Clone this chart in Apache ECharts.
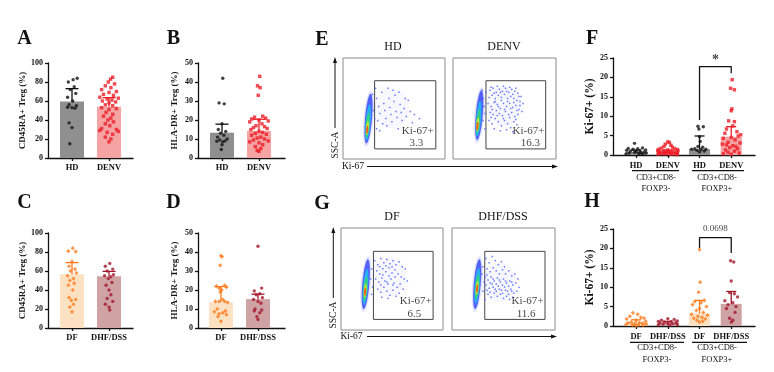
<!DOCTYPE html>
<html>
<head>
<meta charset="utf-8">
<script src="https://cdn.jsdelivr.net/npm/echarts@6/dist/echarts.min.js"></script>
<style>
html,body{margin:0;padding:0;background:#fff;}
#main{width:774px;height:372px;}
</style>
</head>
<body>
<div id="main"></div>
<script>
// ---- categories / ticks ----
var catsAB = ['HD', 'DENV'];
var catsCD = ['DF', 'DHF/DSS'];
var catsF = ['HD', 'DENV', 'HD', 'DENV'];
var catsH = ['DF', 'DHF/DSS', 'DF', 'DHF/DSS'];
var ticksPct = [0, 20, 40, 60, 80, 100];
var ticksHla = [0, 10, 20, 30, 40, 50];
var ticksKi = [0, 5, 10, 15, 20, 25];

// ---- bar heights and error limits (per category) ----
var aBar = [59.6, 54.0], aLo = [53, 29], aHi = [73, 63.5];
var bBar = [13.3, 14.2], bLo = [9, 9], bHi = [17.8, 20.4];
var cBar = [56.5, 54.4], cLo = [29, 31], cHi = [68.8, 59.6];
var dBar = [13.6, 15.2], dLo = [8.2, 9], dHi = [21.8, 17.8];
var fBar = [0.8, 0.9, 1.5, 4.7], fLo = [0.5, 0.6, 1.0, 2.0], fHi = [1.3, 1.3, 4.9, 7.3];
var hBar = [0.9, 0.8, 3.2, 5.7], hLo = [0.4, 0.4, 1.6, 3.3], hHi = [1.6, 1.2, 6.6, 8.9];

// ---- individual points [jitter, value] ----
var aHD = [[0.14,84],[0.03,82.5],[-0.1,80],[0.06,75],[-0.05,72],[0.1,68],[-0.12,64],[0.02,60],[-0.08,56],[0.12,55],[-0.12,53.5],[0,53],[0.08,52.5],[-0.08,37],[0,32],[-0.06,15]];
var aDENV = [[0.1,85],[0.04,83],[-0.02,80],[0.15,78],[-0.1,76],[0.05,74],[-0.2,72],[0.2,70],[0,69],[-0.15,67],[0.12,66],[-0.25,64],[0.25,63],[-0.05,62],[0.08,61],[-0.18,60],[0.18,59],[0,58],[-0.1,56],[0.1,55],[-0.2,53],[0.2,52],[0,51],[-0.08,48],[0.1,46],[-0.15,44],[0.05,42],[-0.03,40],[0.12,38],[-0.1,36],[0.02,34],[-0.2,31],[0.2,30],[-0.25,29],[0.25,28],[-0.05,27],[0.1,25],[-0.1,22],[0.05,20],[0,17]];
var bHD = [[0.02,42],[-0.08,29],[0.06,28.5],[0,18],[-0.1,15],[0.1,14],[-0.04,13],[0.05,12],[-0.12,11],[0.14,10],[-0.06,9.5],[0.08,9],[-0.14,8.8],[0.02,8.5],[0,7],[-0.02,4.5]];
var bDENV = [[0.02,43],[-0.04,38],[0.03,37],[-0.02,33],[0.1,22],[-0.12,21.5],[0.18,21],[-0.2,20.5],[0,20],[0.25,19.5],[-0.25,19],[0.08,18],[-0.08,17],[0.15,16.5],[-0.15,16],[0.22,15.5],[-0.22,15],[0,14],[0.1,13.5],[-0.1,13],[0.2,12.5],[-0.2,12],[0.05,11],[-0.05,10.5],[0.15,10],[-0.15,9.5],[0.25,9],[-0.25,8.5],[0,8],[0.1,7],[-0.1,6],[0.05,5],[-0.05,4],[0,3.5]];
var cDF = [[0.02,84],[-0.1,81],[0.1,80.5],[0,70],[-0.08,65],[0.08,62],[-0.04,60],[0.12,58],[-0.12,55],[0.04,52],[-0.06,50],[0.06,47],[-0.1,45],[0.02,40],[-0.08,32],[0.1,30],[-0.02,29],[0.04,25],[-0.06,22],[0,17]];
var cDHF = [[0.02,68],[-0.1,65],[0.1,62],[-0.05,60],[0.12,56],[-0.12,55],[0.05,54],[-0.02,52],[0.08,48],[-0.08,45],[0,40],[0.05,35],[-0.05,31],[0.1,28],[-0.1,25],[0,22],[0.02,19]];
var dDF = [[0,38],[0.03,37.5],[-0.02,33],[0.1,22.5],[-0.12,22],[0.15,21.5],[-0.05,21],[0.02,20],[-0.02,19],[0.05,15],[-0.15,14],[-0.05,14],[0.1,14],[0.18,13.5],[-0.1,10],[0.12,9],[-0.18,8.5],[0.05,8],[-0.05,7.5],[0.15,7],[-0.08,6],[0,3.5]];
var dDHF = [[0,43],[0.1,21],[-0.1,19.5],[0.05,18],[-0.05,17.5],[0.12,16],[-0.12,15],[0,14],[0.08,13],[-0.08,10],[0.1,9.5],[-0.1,9],[0.05,8],[-0.03,6],[0,4.5]];
var fHD1 = [[-0.05,3.0],[0.2,1.8],[-0.25,1.7],[0.05,1.6],[-0.1,1.5],[0.3,1.3],[-0.3,1.2],[0.12,1.0],[-0.18,1.0],[0,0.9],[0.25,0.8],[-0.05,0.7],[0.15,0.6],[-0.22,0.5],[0.32,0.5],[0.08,0.4],[-0.32,0.3],[0.2,0.2]];
var fDENV1 = [[0,3.4],[0.05,3.2],[-0.08,2.8],[0.1,2.5],[-0.12,2.2],[0.15,2.0],[-0.2,1.8],[0.22,1.6],[-0.28,1.5],[0.3,1.4],[0,1.3],[-0.32,1.2],[0.32,1.1],[-0.15,1.0],[0.15,1.0],[-0.05,0.9],[0.05,0.8],[-0.25,0.8],[0.25,0.7],[-0.1,0.6],[0.1,0.6],[-0.3,0.5],[0.3,0.5],[0,0.4],[-0.2,0.4],[0.2,0.3],[-0.1,0.3],[0.1,0.2],[-0.3,0.2],[0.3,0.1]];
var fHD2 = [[-0.05,7.4],[0.12,7.3],[-0.02,6.7],[0,4.7],[0.02,3.5],[-0.05,2.2],[0.1,2.0],[-0.15,1.6],[0.2,1.5],[-0.25,1.5],[0.05,1.4],[-0.08,1.2],[0.15,1.0],[0,0.8]];
var fDENV2 = [[0.03,19.4],[-0.02,17.2],[0.1,16.8],[0.02,11.9],[0,11.4],[-0.08,8.8],[0.1,8.6],[0.05,7.5],[-0.15,6.7],[0.18,6.0],[-0.2,5.6],[0.22,4.9],[0,4.5],[-0.25,4.3],[0.12,3.9],[-0.1,3.3],[0.28,3.1],[-0.28,2.8],[0.05,2.4],[-0.05,1.9],[0.2,1.6],[-0.18,1.3],[0.1,1.0],[-0.1,0.7],[0.25,0.5],[-0.25,0.3],[0,0.2],[0.15,2.2],[-0.15,2.6],[0.3,5.2]];
var hDF1 = [[-0.1,3.4],[0.05,3.0],[-0.2,2.5],[0.15,2.2],[0.25,2.0],[-0.3,1.8],[0,1.5],[0.3,1.2],[-0.15,1.0],[0.1,0.9],[-0.25,0.8],[0.2,0.7],[-0.05,0.6],[0.32,0.5],[-0.32,0.4],[0.08,0.3],[-0.12,0.2],[0.22,0.2],[0,0.1]];
var hDHF1 = [[0,1.9],[0.2,1.7],[-0.2,1.5],[0.3,1.3],[-0.3,1.2],[0.1,1.1],[-0.1,1.0],[0.25,0.9],[-0.25,0.8],[0,0.7],[0.15,0.6],[-0.15,0.5],[0.3,0.4],[-0.3,0.3],[0.05,0.2]];
var hDF2 = [[0,19.7],[0.02,11.3],[-0.03,8.7],[0.15,6.6],[-0.15,6.3],[0.05,6.0],[-0.22,5.5],[0.22,5.0],[0,4.5],[-0.1,4.0],[0.12,3.5],[-0.25,3.0],[0.25,2.8],[-0.05,2.5],[0.08,2.2],[-0.18,2.0],[0.18,1.8],[-0.08,1.5],[0.1,1.2],[0,1.0]];
var hDHF2 = [[-0.02,16.8],[0.08,16.5],[0,11.6],[-0.05,8.6],[0.1,8.3],[0.2,7.5],[-0.2,6.5],[0.05,6.0],[-0.1,5.5],[0.15,5.0],[-0.15,4.5],[0.12,3.5],[-0.05,2.0],[0.05,1.5],[0,1.0]];

// significance brackets
var fBracket = [[2,9],[2,22.8],[3,22.8],[3,21.1]];
var hBracket = [[2,20.1],[2,22.8],[3,22.8],[3,18.8]];

// ---- flow plots (0-100 plot units) ----
var flowTitles = ['HD', 'DENV', 'DF', 'DHF/DSS'];
var flowPct = ['3.3', '16.3', '6.5', '11.6'];
var popCenter = [[25,40],[25.5,43.5],[24.3,45],[24.5,45]];
var popCore = [[23.7,29],[23.7,32.6],[23.6,37.4],[24.4,40.7]];
var gateBox = [[31,10,91,77.5],[32,10,90,77.5],[31.8,10.4,90.3,77.1],[31.8,10.4,90.3,77.1]];
var cloudE1 = [[33,60],[35,52],[36,45],[34,38],[38,66],[40,55],[41,48],[42,40],[43,33],[45,60],[46,51],[47,44],[48,37],[50,57],[51,63],[52,47],[53,41],[54,30],[56,54],[57,46],[58,38],[60,50],[62,42],[64,58],[66,47],[68,36],[33,30],[36,28],[39,35],[44,70],[49,68],[55,66],[61,60],[70,44],[75,40],[32,70],[29,64],[30,48],[31,40]];
var cloudE2 = [[36,68],[39,70],[42,66],[45,69],[48,67],[51,70],[54,66],[57,69],[60,67],[63,65],[66,62],[38,63],[41,60],[44,63],[47,61],[50,64],[53,60],[56,62],[59,60],[62,58],[65,57],[68,55],[34,55],[37,52],[40,56],[43,54],[46,50],[49,55],[52,52],[55,55],[58,51],[61,53],[64,49],[67,47],[36,46],[39,44],[42,48],[45,45],[48,43],[51,47],[54,44],[57,46],[60,42],[63,44],[35,38],[38,35],[41,40],[44,37],[47,33],[50,38],[53,35],[56,31],[59,37],[62,34],[40,30],[46,28],[52,29],[58,27],[29,60],[30,52],[31,45],[29,38],[32,66],[31,30],[28,68],[37,71],[43,72],[49,72],[55,71],[61,70],[40,65],[46,66],[52,67],[58,64],[64,62],[35,61],[41,57],[47,58],[53,57],[59,56],[65,53],[38,49],[44,52],[50,49],[56,50],[62,48],[37,41],[43,43],[49,40],[55,41],[61,39]];
var cloudG1 = [[33,68],[36,64],[39,70],[42,66],[45,69],[48,65],[51,68],[54,64],[57,67],[60,62],[63,60],[35,58],[38,55],[41,60],[44,57],[47,61],[50,56],[53,59],[56,55],[59,52],[62,50],[65,48],[34,50],[37,47],[40,51],[43,48],[46,45],[49,50],[52,46],[55,42],[58,45],[61,40],[36,40],[39,37],[42,42],[45,38],[48,34],[51,39],[54,33],[57,36],[40,32],[46,31],[30,60],[29,50],[31,42],[30,35],[38,62],[44,63],[50,62],[41,54],[47,53],[53,52],[39,44],[45,47],[51,44]];
var cloudG2 = [[33,70],[36,66],[39,72],[42,68],[45,64],[48,67],[51,62],[34,60],[37,57],[40,61],[43,58],[46,55],[49,59],[52,55],[55,58],[58,53],[61,55],[64,50],[32,52],[35,49],[38,52],[41,48],[44,51],[47,47],[50,50],[53,46],[56,48],[59,44],[62,46],[65,42],[33,44],[36,41],[39,45],[42,40],[45,43],[48,39],[51,42],[54,38],[57,40],[60,36],[63,38],[35,35],[38,32],[41,36],[44,33],[47,35],[50,31],[53,33],[56,30],[59,32],[30,62],[29,55],[31,47],[30,38],[32,30],[34,54],[37,46],[40,50],[43,45],[46,49],[49,44],[52,48],[55,43],[58,47],[34,39],[37,37],[40,42],[43,38],[46,40],[49,36],[52,39],[55,35],[58,38]];
var hazeCenter = [[48,50],[50,52],[47,52],[46,47]];

// ---- styles ----
var SERIF = 'Liberation Serif';
var INK = '#111';
var sHD = {fill:'#8f8f8f', dot:'#111', sym:'circle'};
var sDENV = {fill:'#f5a3a3', dot:'#ec1c24', sym:'rect'};
var sDF = {fill:'#fde1c3', dot:'#ff7b1a', sym:'diamond'};
var sDHF = {fill:'#cfa2a4', dot:'#a3162b', sym:'circle'};

var grids = [], xAxes = [], yAxes = [], series = [], graphics = [];

function addGrid(rect, xa, ya) {
  var i = grids.length;
  grids.push(rect);
  xa.gridIndex = i; ya.gridIndex = i;
  xAxes.push(xa); yAxes.push(ya);
  return i;
}

function barPanel(p) {
  var pos = p.cats.map(function (c, i) { return i; });
  var t = p.ticks;
  var gi = addGrid({left:p.left, top:p.top, width:p.width, height:p.height}, {
    type:'value', min:p.xmin, max:p.xmax, splitLine:{show:false},
    axisLine:{show:true, onZero:false, lineStyle:{color:INK, width:1.3}},
    axisTick:{show:true, customValues:pos, length:3, lineStyle:{color:INK, width:1.3}},
    axisLabel:{customValues:pos, margin:p.catMargin, color:INK, fontFamily:SERIF, fontWeight:'bold', fontSize:p.catSize,
      formatter:function (v) { return p.cats[Math.round(v)]; }}
  }, {
    type:'value', min:t[0], max:t[t.length-1], interval:t[1]-t[0], splitLine:{show:false},
    axisLine:{show:true, onZero:false, lineStyle:{color:INK, width:1.3}},
    axisTick:{show:true, length:3, lineStyle:{color:INK, width:1.3}},
    axisLabel:{margin:5, color:INK, fontFamily:SERIF, fontWeight:'bold', fontSize:8},
    name:p.name, nameLocation:'middle', nameGap:p.nameGap,
    nameTextStyle:{color:INK, fontFamily:SERIF, fontWeight:'bold', fontSize:p.nameSize}
  });
  series.push({type:'bar', xAxisIndex:gi, yAxisIndex:gi, barWidth:p.barW, silent:true,
    data:p.bars.map(function (b, i) { return {value:[i, b], itemStyle:{color:p.styles[i].fill}}; })});
  p.dots.forEach(function (d, i) {
    var s = p.styles[i];
    series.push({type:'scatter', xAxisIndex:gi, yAxisIndex:gi, silent:true, symbol:s.sym, symbolSize:s.sym === 'diamond' ? 4.2 : 3.4,
      itemStyle:{color:s.dot}, data:d.map(function (q) { return [i + q[0], q[1]]; })});
  });
  series.push({type:'custom', xAxisIndex:gi, yAxisIndex:gi, silent:true,
    data:p.lo.map(function (l, i) { return [i, l, p.hi[i]]; }),
    renderItem:function (params, api) {
      var c = p.styles[params.dataIndex].dot;
      var hi = api.coord([api.value(0), api.value(2)]);
      var lo = api.coord([api.value(0), api.value(1)]);
      var w = p.capW, st = {stroke:c, lineWidth:1.3};
      return {type:'group', children:[
        {type:'line', shape:{x1:hi[0], y1:hi[1], x2:lo[0], y2:lo[1]}, style:st},
        {type:'line', shape:{x1:hi[0]-w, y1:hi[1], x2:hi[0]+w, y2:hi[1]}, style:st},
        {type:'line', shape:{x1:lo[0]-w, y1:lo[1], x2:lo[0]+w, y2:lo[1]}, style:st}
      ]};
    }});
  if (p.bracket) {
    series.push({type:'line', xAxisIndex:gi, yAxisIndex:gi, silent:true, symbol:'none',
      lineStyle:{color:INK, width:1.3}, data:p.bracket});
    series.push({type:'scatter', xAxisIndex:gi, yAxisIndex:gi, silent:true, symbolSize:0,
      data:[{value:[2.5, p.markY], name:p.mark}],
      label:{show:true, position:'inside', formatter:'{b}', color:INK, fontFamily:SERIF,
        fontSize:p.markSize, fontWeight:p.markWeight}});
  }
}

function flowPanel(k, rect, cloud) {
  var gi = addGrid({left:rect[0], top:rect[1], width:rect[2], height:rect[3], show:true,
    borderColor:'#8a8a8a', borderWidth:1, backgroundColor:'#fff'},
    {type:'value', min:0, max:100, show:false}, {type:'value', min:0, max:100, show:false});
  var g = gateBox[k];
  series.push({type:'scatter', xAxisIndex:gi, yAxisIndex:gi, silent:true, symbolSize:9,
    data:[{value:hazeCenter[k], symbolSize:[34, 40], itemStyle:{color:'rgba(110,130,255,0.07)'}}],
    markArea:{silent:true, itemStyle:{color:'rgba(0,0,0,0)', borderColor:'#444', borderWidth:1},
      data:[[{coord:[g[0], g[1]]}, {coord:[g[2], g[3]]}]]}});
  series.push({type:'scatter', xAxisIndex:gi, yAxisIndex:gi, silent:true, symbolSize:1.5, symbol:'rect',
    itemStyle:{color:'#5064ff', opacity:0.85}, data:cloud});
  var c = popCenter[k], o = popCore[k];
  var layers = [
    {t:0, size:[10, 56], color:'rgba(70,90,255,0.22)'},
    {t:0, size:[7, 50], color:'#3040f5'},
    {t:0.35, size:[5, 36], color:'#1cc4f2'},
    {t:0.6, size:[3.8, 25], color:'#36d86a'},
    {t:0.85, size:[2.8, 14], color:'#e2ec1e'},
    {t:1, size:[2, 8], color:'#ff3a12'}
  ];
  series.push({type:'scatter', xAxisIndex:gi, yAxisIndex:gi, silent:true, symbolRotate:-5,
    data:layers.map(function (L) {
      return {value:[c[0] + (o[0]-c[0])*L.t, c[1] + (o[1]-c[1])*L.t], symbolSize:L.size,
        itemStyle:{color:L.color}};
    })});
  series.push({type:'scatter', xAxisIndex:gi, yAxisIndex:gi, silent:true, symbolSize:0,
    label:{show:true, position:'inside', formatter:'{b}', color:INK, fontFamily:SERIF, fontSize:11},
    data:[{value:[73.2, 28], name:'Ki-67+'}, {value:[k === 1 ? 75 : 72, 16], name:flowPct[k]}]});
}

// ---- bar panels ----
barPanel({left:48, top:63, width:85, height:95, xmin:-0.649, xmax:1.648, ticks:ticksPct, cats:catsAB,
  name:'CD45RA+ Treg (%)', nameGap:19, nameSize:9, catSize:8.5, catMargin:5, barW:24, capW:6.5,
  bars:aBar, lo:aLo, hi:aHi, dots:[aHD, aDENV], styles:[sHD, sDENV]});
barPanel({left:198, top:63, width:87, height:95, xmin:-0.649, xmax:1.703, ticks:ticksHla, cats:catsAB,
  name:'HLA-DR+ Treg (%)', nameGap:19, nameSize:9, catSize:8.5, catMargin:5, barW:24, capW:6.5,
  bars:bBar, lo:bLo, hi:bHi, dots:[bHD, bDENV], styles:[sHD, sDENV]});
barPanel({left:48, top:233, width:85, height:95, xmin:-0.649, xmax:1.648, ticks:ticksPct, cats:catsCD,
  name:'CD45RA+ Treg (%)', nameGap:19, nameSize:9, catSize:8.5, catMargin:5, barW:24, capW:6.5,
  bars:cBar, lo:cLo, hi:cHi, dots:[cDF, cDHF], styles:[sDF, sDHF]});
barPanel({left:198, top:233, width:87, height:95, xmin:-0.62, xmax:1.73, ticks:ticksHla, cats:catsCD,
  name:'HLA-DR+ Treg (%)', nameGap:19, nameSize:9, catSize:8.5, catMargin:5, barW:24, capW:6.5,
  bars:dBar, lo:dLo, hi:dHi, dots:[dDF, dDHF], styles:[sDF, sDHF]});
barPanel({left:613, top:58, width:142, height:97, xmin:-0.73, xmax:3.75, ticks:ticksKi, cats:catsF,
  name:'Ki-67+ (%)', nameGap:14, nameSize:11.5, catSize:8.5, catMargin:6, barW:21, capW:5,
  bars:fBar, lo:fLo, hi:fHi, dots:[fHD1, fDENV1, fHD2, fDENV2], styles:[sHD, sDENV, sHD, sDENV],
  bracket:fBracket, mark:'*', markY:24.3, markSize:14, markWeight:'bold'});
barPanel({left:613, top:229, width:142, height:97, xmin:-0.73, xmax:3.75, ticks:ticksKi, cats:catsH,
  name:'Ki-67+ (%)', nameGap:14, nameSize:11.5, catSize:8.5, catMargin:6, barW:21, capW:5,
  bars:hBar, lo:hLo, hi:hHi, dots:[hDF1, hDHF1, hDF2, hDHF2], styles:[sDF, sDHF, sDF, sDHF],
  bracket:hBracket, mark:'0.0698', markY:25, markSize:9, markWeight:'normal'});

// ---- flow panels ----
flowPanel(0, [343, 58, 102, 101], cloudE1);
flowPanel(1, [453, 58, 103, 101], cloudE2);
flowPanel(2, [341, 228, 102, 102], cloudG1);
flowPanel(3, [452, 228, 103, 102], cloudG2);

// ---- annotations ----
function txt(s, x, y, size, weight, lh) {
  var e = {type:'text', x:x, y:y, silent:true, style:{text:s, fill:INK, fontFamily:SERIF, fontSize:size,
    fontWeight:weight || 'normal', align:'center', verticalAlign:'middle', lineHeight:lh || undefined}};
  graphics.push(e);
  return e;
}
function ln(x1, y1, x2, y2, w) {
  graphics.push({type:'line', silent:true, shape:{x1:x1, y1:y1, x2:x2, y2:y2}, style:{stroke:INK, lineWidth:w || 1}});
}
function head(pts) {
  graphics.push({type:'polygon', silent:true, shape:{points:pts}, style:{fill:INK}});
}
[['A',24.5,39],['B',173.5,39],['C',24.5,203],['D',173.5,203],['E',322,40],['F',592,39],['G',322,204],['H',592,202]]
  .forEach(function (l) { txt(l[0], l[1], l[2], 20, 'bold'); });
txt(flowTitles[0], 393, 47, 12); txt(flowTitles[1], 504, 47, 12);
txt(flowTitles[2], 392, 217, 12); txt(flowTitles[3], 503, 217, 12);
// E axes
ln(335, 128, 335, 61); head([[335,57],[333,63],[337,63]]);
var s1 = txt('SSC-A', 335, 145, 9.5); s1.rotation = Math.PI / 2;
txt('Ki-67', 353, 166.5, 9.5);
ln(367, 166.5, 554, 166.5); head([[558,166.5],[552,164.5],[552,168.5]]);
// G axes
ln(333.3, 298, 333.3, 231); head([[333.3,227],[331.3,233],[335.3,233]]);
var s2 = txt('SSC-A', 333.3, 315, 9.5); s2.rotation = Math.PI / 2;
txt('Ki-67', 351.5, 336.5, 9.5);
ln(367, 336.5, 553, 336.5); head([[557,336.5],[551,334.5],[551,338.5]]);
// group labels F
ln(632, 170.7, 679, 170.7, 1.2); ln(692, 170.7, 744, 170.7, 1.2);
txt('CD3+CD8-\nFOXP3-', 656, 183, 8.5, 'normal', 10.6);
txt('CD3+CD8-\nFOXP3+', 717, 183, 8.5, 'normal', 10.6);
// group labels H
ln(630, 342.3, 684, 342.3, 1.2); ln(692, 342.3, 747, 342.3, 1.2);
txt('CD3+CD8-\nFOXP3-', 657, 354, 8.5, 'normal', 11.5);
txt('CD3+CD8-\nFOXP3+', 717, 354, 8.5, 'normal', 11.5);

var chart = echarts.init(document.getElementById('main'), null, {renderer:'canvas'});
chart.setOption({
  backgroundColor:'#fff',
  animation:false,
  grid:grids,
  xAxis:xAxes,
  yAxis:yAxes,
  series:series,
  graphic:graphics
});
</script>
</body>
</html>
